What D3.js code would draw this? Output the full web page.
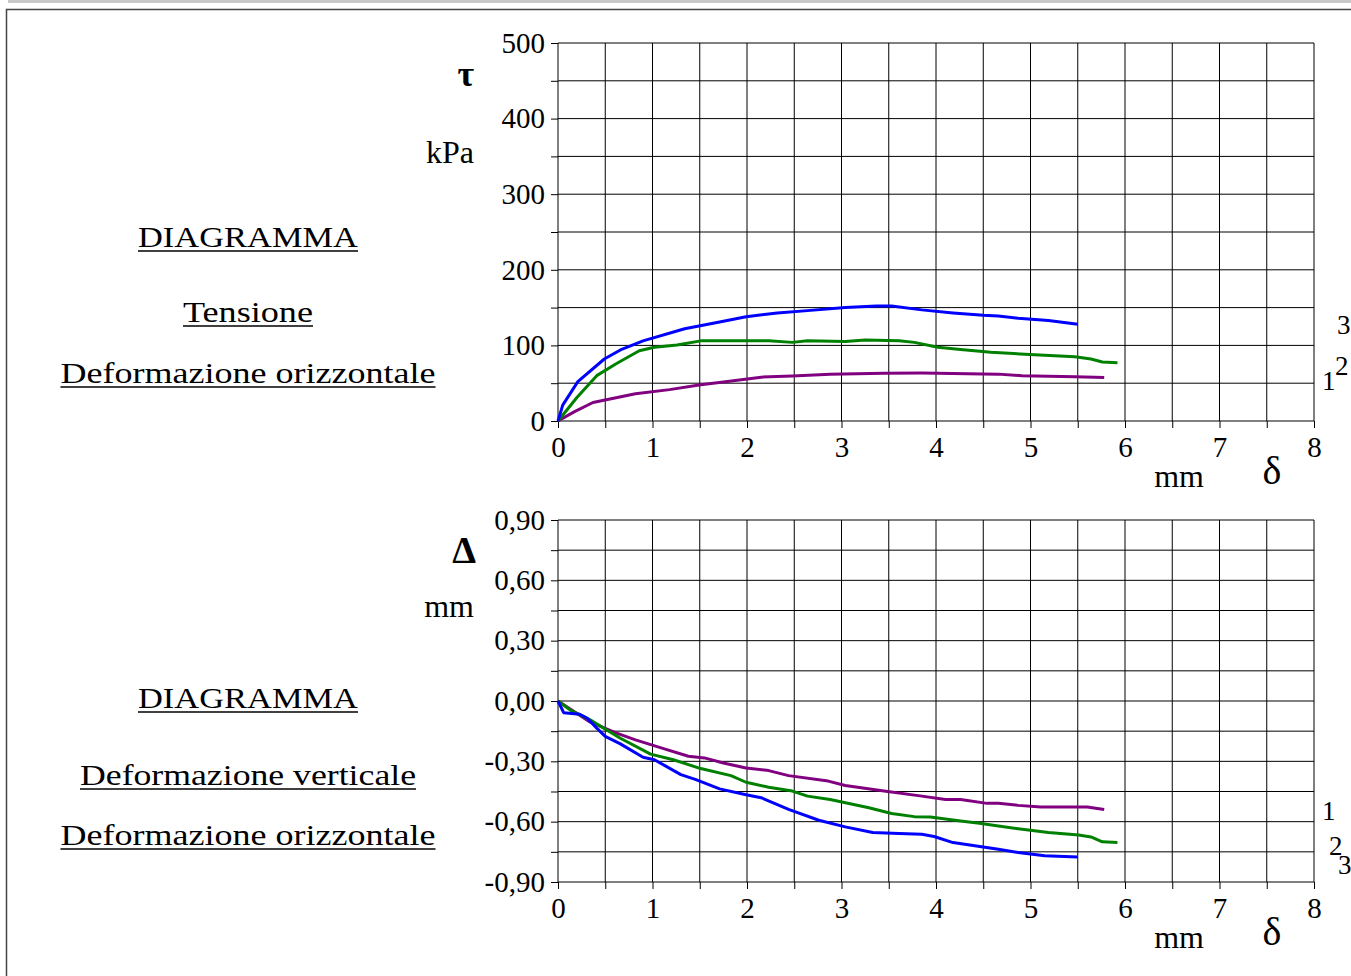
<!DOCTYPE html>
<html>
<head>
<meta charset="utf-8">
<script src="https://cdn.jsdelivr.net/npm/d3@7"></script>
<style>
	html,body{margin:0;padding:0;background:#fff;}
	svg{display:block;}
	text{font-family:"Liberation Serif","Times New Roman",serif;fill:#000;}
</style>
</head>
<body>
<svg id="svg"></svg>
<script>
// delta (mm) / tau (kPa) per provino 1,2,3
var tauX1 = [0,0.17,0.37,0.82,1.18,1.51,1.75,2.15,2.48,2.88,3.45,3.85,4.66,4.91,5.47,5.78],
	tauY1 = [0,12,24.5,36,41.5,48,51.6,58,59.5,62,63,63.4,62,60,58.6,57.7];
var tauX2 = [0,0.2,0.41,0.62,0.86,1.02,1.26,1.51,1.83,2.23,2.48,2.64,3.04,3.25,3.61,3.77,4.02,4.26,4.58,4.99,5.47,5.64,5.76,5.92],
	tauY2 = [0,31,60,76,93,97.5,100.6,106,106,106,104,106,105,107,106,104,97.5,94.5,91,88,85,82,78,77];
var tauX3 = [0,0.05,0.21,0.49,0.66,0.9,1.34,1.71,1.99,2.32,2.64,3.04,3.37,3.53,3.85,4.18,4.5,4.66,4.87,5.19,5.5],
	tauY3 = [0,21,52,82,94,106,122,131,138,143,146,150,152,152,147,143,140,139,136,133,128];

// delta (mm) / Delta verticale (mm)
var vX1 = [0,0.33,0.62,0.82,1.1,1.38,1.55,1.75,1.99,2.23,2.44,2.84,3.04,3.45,3.85,4.1,4.26,4.54,4.66,4.87,5.11,5.6,5.78],
	vY1 = [0,-0.102,-0.16,-0.193,-0.234,-0.275,-0.283,-0.308,-0.333,-0.346,-0.371,-0.396,-0.42,-0.448,-0.473,-0.49,-0.49,-0.509,-0.509,-0.519,-0.527,-0.527,-0.539];
var vX2 = [0,0.13,0.34,0.66,0.98,1.22,1.51,1.83,1.99,2.23,2.48,2.64,2.88,3.29,3.53,3.77,3.94,4.26,4.46,4.66,4.87,5.19,5.51,5.64,5.76,5.92],
	vY2 = [0,-0.045,-0.094,-0.185,-0.264,-0.292,-0.336,-0.371,-0.404,-0.429,-0.448,-0.473,-0.49,-0.531,-0.559,-0.575,-0.577,-0.597,-0.608,-0.621,-0.635,-0.654,-0.666,-0.676,-0.7,-0.704];
var vX3 = [0,0.06,0.23,0.31,0.41,0.5,0.66,0.9,1.02,1.3,1.46,1.71,1.99,2.15,2.44,2.76,3.04,3.33,3.61,3.85,3.98,4.18,4.66,4.87,5.15,5.5],
	vY3 = [0,-0.058,-0.066,-0.086,-0.135,-0.176,-0.213,-0.28,-0.292,-0.366,-0.391,-0.437,-0.466,-0.481,-0.539,-0.593,-0.626,-0.654,-0.659,-0.663,-0.674,-0.704,-0.737,-0.753,-0.77,-0.776];

var seriesNames = ["1","2","3"],
	seriesColors = ["#800080","#008000","#0000ff"];

var xTicks = [0,0.5,1,1.5,2,2.5,3,3.5,4,4.5,5,5.5,6,6.5,7,7.5,8];
var tauTicks = [0,50,100,150,200,250,300,350,400,450,500],
	tauLabels = ["0","","100","","200","","300","","400","","500"];
var vTicks = [-0.9,-0.75,-0.6,-0.45,-0.3,-0.15,0,0.15,0.3,0.45,0.6,0.75,0.9],
	vLabels = ["-0,90","","-0,60","","-0,30","","0,00","","0,30","","0,60","","0,90"];

var width = 1351, height = 976;
var svg = d3.select("#svg").attr("width", width).attr("height", height);

// cornice pagina
svg.append("rect").attr("x",8).attr("y",0).attr("width",width).attr("height",3).attr("fill","#c8c8c8");
svg.append("path").attr("d","M6.5,976V9.5H1351").attr("fill","none").attr("stroke","#444").attr("stroke-width",1.5);

function zip(xs,ys){
	return xs.map(function(d,i){return [d,ys[i]];});
}

function panel(opt){
	var x = d3.scaleLinear().domain([0,8]).range([558,1314]);
	var y = d3.scaleLinear().domain(opt.domain).range(opt.range);
	var g = svg.append("g");

	// griglia
	g.append("g").selectAll("line").data(xTicks).enter().append("line")
		.attr("x1",d=>x(d)).attr("x2",d=>x(d))
		.attr("y1",y(opt.domain[1])).attr("y2",y(opt.domain[0]))
		.attr("stroke","#000").attr("stroke-width",1);
	g.append("g").selectAll("line").data(opt.yTicks).enter().append("line")
		.attr("x1",x(0)).attr("x2",x(8))
		.attr("y1",d=>y(d)).attr("y2",d=>y(d))
		.attr("stroke","#000").attr("stroke-width",1);

	// assi
	var ax = g.append("g").attr("transform","translate(0,"+y(opt.domain[0])+")")
		.call(d3.axisBottom(x).tickValues(xTicks).tickSize(7).tickPadding(8)
			.tickFormat(d=>Number.isInteger(d)?d:""));
	var ay = g.append("g").attr("transform","translate("+x(0)+",0)")
		.call(d3.axisLeft(y).tickValues(opt.yTicks).tickSize(7).tickPadding(6)
			.tickFormat((d,i)=>opt.yLabels[i]));
	[ax,ay].forEach(function(a){
		a.select(".domain").remove();
		a.selectAll("line").attr("stroke","#000");
		a.selectAll("text").attr("font-size",29).attr("fill","#000");
	});

	// curve
	var line = d3.line().x(d=>x(d[0])).y(d=>y(d[1]));
	g.append("g").selectAll("path").data(opt.series).enter().append("path")
		.attr("d",d=>line(d))
		.attr("fill","none")
		.attr("stroke",(d,i)=>seriesColors[i])
		.attr("stroke-width",3)
		.attr("stroke-linejoin","round");

	// numeri provini a destra
	g.append("g").selectAll("text").data(seriesNames).enter().append("text")
		.attr("x",(d,i)=>x(8)+opt.endDx[i])
		.attr("y",(d,i)=>y(opt.endY[i]))
		.attr("font-size",27)
		.text(d=>d);

	// titoli asse
	g.append("text").attr("x",opt.symX).attr("y",opt.symY).attr("text-anchor","end")
		.attr("font-size",opt.symSize).attr("font-weight","bold").text(opt.sym);
	g.append("text").attr("x",474).attr("y",opt.unitY).attr("text-anchor","end")
		.attr("font-size",32).text(opt.unit);
	g.append("text").attr("x",1204).attr("y",y(opt.domain[0])+66).attr("text-anchor","end")
		.attr("font-size",32).text("mm");
	g.append("text").attr("x",1272).attr("y",y(opt.domain[0])+63).attr("text-anchor","middle")
		.attr("font-size",40).text("δ");

	// didascalia a sinistra
	opt.caption.forEach(function(c){
		g.append("text").attr("x",248).attr("y",c.y).attr("text-anchor","middle")
			.attr("font-size",30).attr("textLength",c.w).attr("lengthAdjust","spacingAndGlyphs")
			.text(c.t);
		g.append("line").attr("x1",248-c.w/2).attr("x2",248+c.w/2)
			.attr("y1",c.y+4).attr("y2",c.y+4).attr("stroke","#000").attr("stroke-width",1.3);
	});
}

panel({
	domain:[0,500], range:[421,43],
	yTicks:tauTicks, yLabels:tauLabels,
	series:[zip(tauX1,tauY1),zip(tauX2,tauY2),zip(tauX3,tauY3)],
	endDx:[8,21,23], endY:[41,61,115],
	sym:"τ", symX:474, symY:86, symSize:36,
	unit:"kPa", unitY:163,
	caption:[
		{t:"DIAGRAMMA",y:247,w:220},
		{t:"Tensione",y:322,w:130},
		{t:"Deformazione orizzontale",y:383,w:375}
	]
});

panel({
	domain:[-0.9,0.9], range:[882,520],
	yTicks:vTicks, yLabels:vLabels,
	series:[zip(vX1,vY1),zip(vX2,vY2),zip(vX3,vY3)],
	endDx:[8,15,24], endY:[-0.592,-0.766,-0.86],
	sym:"Δ", symX:476, symY:563, symSize:38,
	unit:"mm", unitY:617,
	caption:[
		{t:"DIAGRAMMA",y:708,w:220},
		{t:"Deformazione verticale",y:785,w:336},
		{t:"Deformazione orizzontale",y:845,w:375}
	]
});
</script>
</body>
</html>
